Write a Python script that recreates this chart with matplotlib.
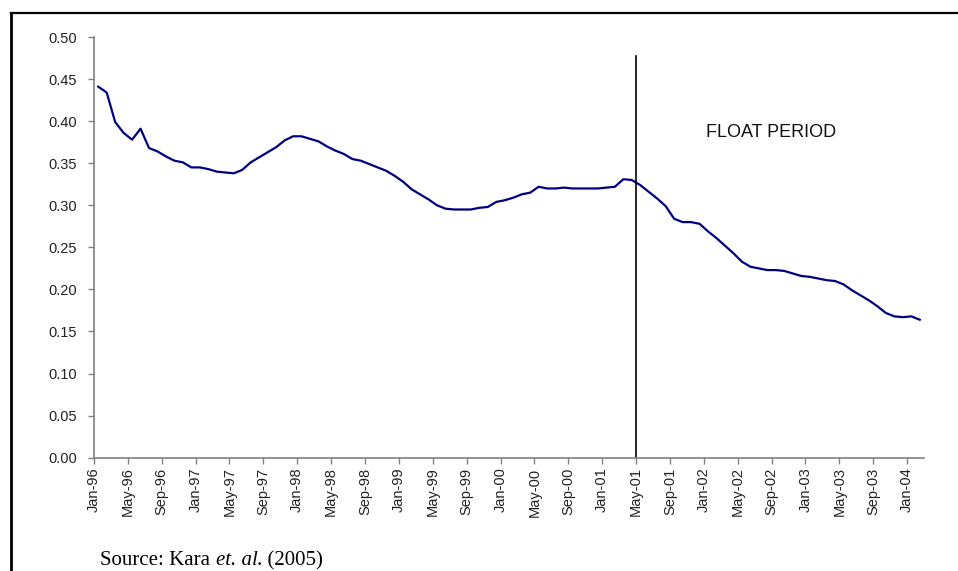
import numpy as np
import pandas as pd
import matplotlib
matplotlib.use('Agg')
import matplotlib.pyplot as plt
from matplotlib.lines import Line2D

# monthly values, Jan-96 .. Feb-04
values = [
    0.441, 0.434, 0.399, 0.386, 0.378, 0.391, 0.368, 0.364, 0.358, 0.353, 0.351, 0.345,  # 1996
    0.345, 0.343, 0.340, 0.339, 0.338, 0.342, 0.351, 0.357, 0.363, 0.369, 0.377, 0.382,  # 1997
    0.382, 0.379, 0.376, 0.370, 0.365, 0.361, 0.355, 0.353, 0.349, 0.345, 0.341, 0.335,  # 1998
    0.328, 0.319, 0.313, 0.307, 0.300, 0.296, 0.295, 0.295, 0.295, 0.297, 0.298, 0.304,  # 1999
    0.306, 0.309, 0.313, 0.315, 0.322, 0.320, 0.320, 0.321, 0.320, 0.320, 0.320, 0.320,  # 2000
    0.321, 0.322, 0.331, 0.330, 0.324, 0.316, 0.308, 0.299, 0.284, 0.280, 0.280, 0.278,  # 2001
    0.269, 0.261, 0.252, 0.243, 0.233, 0.227, 0.225, 0.223, 0.223, 0.222, 0.219, 0.216,  # 2002
    0.215, 0.213, 0.211, 0.210, 0.206, 0.199, 0.193, 0.187, 0.180, 0.172, 0.168, 0.167,  # 2003
    0.168, 0.164,                                                                        # 2004
]
start_month = '1996-01-01'
float_start = '2001-05-01'
tick_step = 4  # months
ytick_values = [0.00, 0.05, 0.10, 0.15, 0.20, 0.25, 0.30, 0.35, 0.40, 0.45, 0.50]

dates = pd.date_range(start_month, periods=len(values), freq='MS')
x = np.arange(len(values)) + 0.5
tick_dates = pd.date_range(start_month, dates[-1], freq=f'{tick_step}MS')
tick_pos = np.arange(len(tick_dates)) * tick_step
tick_labels = tick_dates.strftime('%b-%y')
float_x = (pd.Timestamp(float_start).year - dates[0].year) * 12 + pd.Timestamp(float_start).month - dates[0].month

plt.rcParams['font.family'] = ['Liberation Sans', 'DejaVu Sans']

fig = plt.figure(figsize=(9.58, 5.71), dpi=100)
ax = fig.add_axes([0.0981, 0.1984, 0.8664, 0.7368])

ax.plot(x, values, color='#000080', lw=1.6, solid_joinstyle='round')
ax.plot([float_x, float_x], [0, 0.477], color='black', lw=1.2)
ax.text(80, 0.386, 'FLOAT PERIOD', ha='center', va='center', fontsize=13, color='#111111')

ax.set_xlim(0, len(values))
ax.set_ylim(0, 0.5)
ax.set_xticks(tick_pos)
ax.set_xticklabels(tick_labels, rotation=90)
ax.set_yticks(ytick_values)
ax.set_yticklabels([f'{v:.2f}' for v in ytick_values])

for s in ['top', 'right']:
    ax.spines[s].set_visible(False)
for s in ['left', 'bottom']:
    ax.spines[s].set_color('#808080')
    ax.spines[s].set_linewidth(1.2)
ax.tick_params(axis='both', colors='#808080', labelcolor='#222222', labelsize=10.5, length=4, width=1.0)
ax.tick_params(axis='y', pad=8)
ax.tick_params(axis='x', pad=3)

# outer frame (only top and left edges visible)
fig.add_artist(Line2D([10.5 / 958, 1.0], [558 / 571, 558 / 571], transform=fig.transFigure, color='black', lw=1.6))
fig.add_artist(Line2D([10.5 / 958, 10.5 / 958], [0, 558 / 571], transform=fig.transFigure, color='black', lw=2.0))

# source note
serif = ['Liberation Serif', 'DejaVu Serif']
t1 = fig.text(100 / 958, 6 / 571, 'Source: Kara', fontsize=15, family=serif, va='baseline', color='black')
t2 = fig.add_artist(plt.Annotation('et. al', xy=(1, 0), xycoords=t1, xytext=(4, 0), textcoords='offset points',
                                   fontsize=15, family=serif, style='italic', va='bottom', color='black'))
t3 = fig.add_artist(plt.Annotation('. (2005)', xy=(1, 0), xycoords=t2, va='bottom',
                                   fontsize=15, family=serif, color='black'))

fig.savefig('out.png', dpi=100)
